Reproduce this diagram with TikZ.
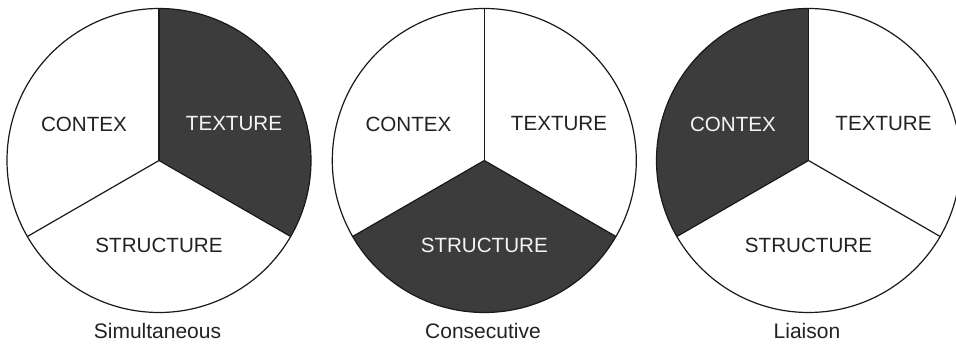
\documentclass[tikz,border=0pt]{standalone}
\usepackage{fontspec}
\setmainfont{Liberation Sans}
\definecolor{darkfill}{HTML}{3C3C3C}
\definecolor{txtdark}{HTML}{222222}
\definecolor{txtlight}{HTML}{F4F4F4}
\tikzset{
  rim/.style={draw=black!90, line width=1.2pt},
  spoke/.style={draw=black!90, line width=1.2pt},
  sector/.style={fill=darkfill, draw=none},
  lbl/.style={font=\fontsize{20.6}{24}\selectfont, text=txtdark, inner sep=0pt},
  lbllight/.style={lbl, text=txtlight},
  caplbl/.style={font=\fontsize{21}{25}\selectfont, text=txtdark, inner sep=0pt}
}
\begin{document}
\begin{tikzpicture}[x=1pt,y=1pt]
\useasboundingbox (0,0) rectangle (956,345);
\def\R{152}
% ---------- circle 1: Simultaneous ----------
\coordinate (c1) at (159,184.5);
\fill[sector] (c1) -- ++(90:\R) arc[start angle=90, end angle=-30, radius=\R] -- cycle;
\draw[rim] (c1) circle[radius=\R];
\draw[spoke] (c1) -- ++(90:\R) coordinate (c1t);
\draw[spoke] (c1) -- ++(-30:\R) coordinate (c1r);
\draw[spoke] (c1) -- ++(210:\R) coordinate (c1l);
\node[lbl] (c1contex) at (84,221) {CONTEX};
\node[lbllight] (c1texture) at (234,221) {TEXTURE};
\node[lbl] (c1structure) at (159,100) {STRUCTURE};
\node[caplbl] (c1cap) at (157.5,14) {Simultaneous};
% ---------- circle 2: Consecutive ----------
\coordinate (c2) at (484.3,184.5);
\fill[sector] (c2) -- ++(-30:\R) arc[start angle=-30, end angle=-150, radius=\R] -- cycle;
\draw[rim] (c2) circle[radius=\R];
\draw[spoke] (c2) -- ++(90:\R) coordinate (c2t);
\draw[spoke] (c2) -- ++(-30:\R) coordinate (c2r);
\draw[spoke] (c2) -- ++(210:\R) coordinate (c2l);
\node[lbl] (c2contex) at (408.5,221) {CONTEX};
\node[lbl] (c2texture) at (559,221) {TEXTURE};
\node[lbllight] (c2structure) at (484.3,100) {STRUCTURE};
\node[caplbl] (c2cap) at (483,14) {Consecutive};
% ---------- circle 3: Liaison ----------
\coordinate (c3) at (808.5,184.5);
\fill[sector] (c3) -- ++(90:\R) arc[start angle=90, end angle=210, radius=\R] -- cycle;
\draw[rim] (c3) circle[radius=\R];
\draw[spoke] (c3) -- ++(90:\R) coordinate (c3t);
\draw[spoke] (c3) -- ++(-30:\R) coordinate (c3r);
\draw[spoke] (c3) -- ++(210:\R) coordinate (c3l);
\node[lbllight] (c3contex) at (733,221) {CONTEX};
\node[lbl] (c3texture) at (883.5,221) {TEXTURE};
\node[lbl] (c3structure) at (808.5,100) {STRUCTURE};
\node[caplbl] (c3cap) at (807,14) {Liaison};
\end{tikzpicture}
\end{document}
